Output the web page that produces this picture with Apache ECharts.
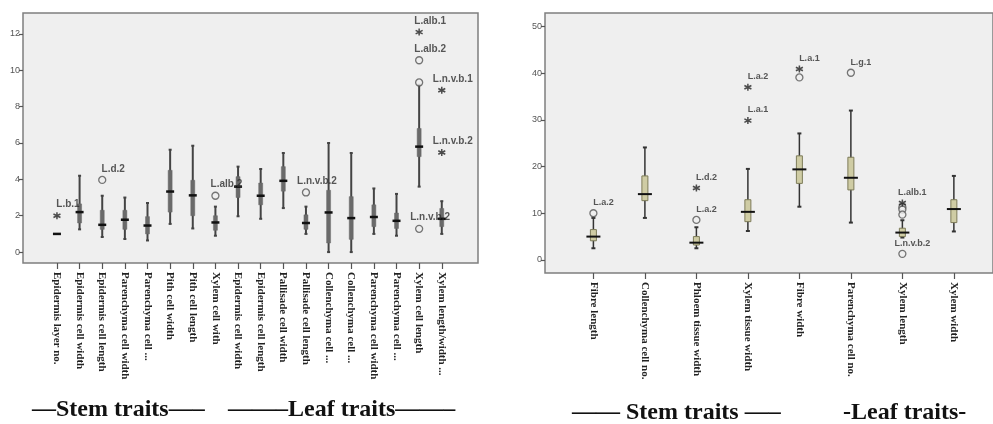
<!DOCTYPE html>
<html>
<head>
<meta charset="utf-8">
<script src="https://cdn.jsdelivr.net/npm/echarts@6/dist/echarts.min.js"></script>
<style>
  html, body { margin: 0; padding: 0; background: #fff; }
  #container { width: 993px; height: 424px; }
</style>
</head>
<body>
<div id="container"></div>
<script>
/* box plots of anatomical traits, two panels */
var leftCats = ['Epidermis layer no.', 'Epidermis cell width', 'Epidermis cell length', 'Parenchyma cell width',
    'Parenchyma cell ...', 'Pith cell width', 'Pith cell length', 'Xylem cell with', 'Epidermis cell width',
    'Epidermis cell length', 'Pallisade cell width', 'Pallisade cell length', 'Collenchyma cell ...',
    'Collenchyma cell ...', 'Parenchyma cell width', 'Parenchyma cell ...', 'Xylem cell length', 'Xylem length/width ...'];
// [min, Q1, median, Q3, max]
var leftBox = [
    [1, 1, 1, 1, 1],
    [1.25, 1.6, 2.2, 2.65, 4.2],
    [0.83, 1.25, 1.5, 2.3, 3.1],
    [0.72, 1.25, 1.78, 2.3, 3.0],
    [0.64, 1.0, 1.46, 1.95, 2.7],
    [1.55, 2.2, 3.33, 4.5, 5.63],
    [1.3, 2.0, 3.12, 3.95, 5.85],
    [0.9, 1.2, 1.63, 2.0, 2.5],
    [1.97, 3.0, 3.6, 4.15, 4.7],
    [1.83, 2.6, 3.1, 3.8, 4.57],
    [2.42, 3.35, 3.92, 4.7, 5.45],
    [1.0, 1.25, 1.6, 2.05, 2.5],
    [0, 0.5, 2.18, 3.4, 6.0],
    [0, 0.7, 1.87, 3.05, 5.45],
    [1.0, 1.4, 1.93, 2.6, 3.5],
    [0.9, 1.3, 1.72, 2.15, 3.2],
    [3.6, 5.25, 5.8, 6.8, 9.2],
    [1.0, 1.4, 1.83, 2.4, 2.8]
];
// [category index, value, kind, label]
var leftOutliers = [
    [0, 2.0, 'star', 'L.b.1'],
    [2, 3.97, 'circle', 'L.d.2'],
    [7, 3.1, 'circle', 'L.alb.2'],
    [11, 3.28, 'circle', 'L.n.v.b.2'],
    [16, 12.1, 'star', 'L.alb.1'],
    [16, 10.55, 'circle', 'L.alb.2'],
    [16, 9.33, 'circle', ''],
    [16, 1.28, 'circle', 'L.n.v.b.2'],
    [17, 8.9, 'star', 'L.n.v.b.1'],
    [17, 5.48, 'star', 'L.n.v.b.2']
];
var leftTicks = [0, 2, 4, 6, 8, 10, 12];

var rightCats = ['Fibre length', 'Collenchyma cell no.', 'Phloem tissue width', 'Xylem tissue width',
    'Fibre width', 'Parenchyma cell no.', 'Xylem length', 'Xylem width'];
var rightBox = [
    [2.5, 4.1, 5.0, 6.5, 9.0],
    [9.0, 12.7, 14.1, 18.0, 24.1],
    [2.5, 3.2, 3.7, 5.0, 7.0],
    [6.2, 8.2, 10.3, 12.9, 19.5],
    [11.4, 16.4, 19.4, 22.3, 27.1],
    [8.0, 15.0, 17.6, 22.0, 32.0],
    [4.8, 5.0, 5.86, 6.8, 8.5],
    [6.1, 8.0, 10.9, 12.9, 18.0]
];
var rightOutliers = [
    [0, 10.0, 'circle', 'L.a.2'],
    [2, 8.57, 'circle', 'L.a.2'],
    [2, 15.4, 'star', 'L.d.2'],
    [3, 37.0, 'star', 'L.a.2'],
    [3, 29.85, 'star', 'L.a.1'],
    [4, 40.9, 'star', 'L.a.1'],
    [4, 39.1, 'circle', ''],
    [5, 40.1, 'circle', 'L.g.1'],
    [6, 12.2, 'star', 'L.alb.1'],
    [6, 11.3, 'circle', ''],
    [6, 10.8, 'circle', ''],
    [6, 9.7, 'circle', ''],
    [6, 1.3, 'circle', 'L.n.v.b.2']
];
var rightTicks = [0, 10, 20, 30, 40, 50];

var STAR = 'path://M5,0L5,10M0.7,2.5L9.3,7.5M0.7,7.5L9.3,2.5';

function boxRenderer(st) {
    return function (params, api) {
        var x = api.value(0);
        var pMin = api.coord([x, api.value(1)]);
        var pQ1 = api.coord([x, api.value(2)]);
        var pMed = api.coord([x, api.value(3)]);
        var pQ3 = api.coord([x, api.value(4)]);
        var pMax = api.coord([x, api.value(5)]);
        var cx = pMed[0];
        var kids = [];
        if (pMin[1] - pMax[1] > 0.5) {
            kids.push({type: 'line', shape: {x1: cx, y1: pMin[1], x2: cx, y2: pMax[1]},
                style: {stroke: st.whisker, lineWidth: st.whiskerWidth}});
            kids.push({type: 'line', shape: {x1: cx - st.cap / 2, y1: pMin[1], x2: cx + st.cap / 2, y2: pMin[1]},
                style: {stroke: st.whisker, lineWidth: 2}});
            kids.push({type: 'line', shape: {x1: cx - st.cap / 2, y1: pMax[1], x2: cx + st.cap / 2, y2: pMax[1]},
                style: {stroke: st.whisker, lineWidth: 2}});
        }
        if (pQ1[1] - pQ3[1] > 0.5) {
            kids.push({type: 'rect', shape: {x: cx - st.boxW / 2, y: pQ3[1], width: st.boxW, height: pQ1[1] - pQ3[1]},
                style: {fill: st.boxFill, stroke: st.boxStroke, lineWidth: st.boxLine}});
        }
        kids.push({type: 'line', shape: {x1: cx - st.medW / 2, y1: pMed[1], x2: cx + st.medW / 2, y2: pMed[1]},
            style: {stroke: '#111', lineWidth: st.medLine}});
        return {type: 'group', children: kids};
    };
}

function outlierSeries(list, kind, axis, dx, fontSize) {
    return {
        type: 'scatter',
        xAxisIndex: axis,
        yAxisIndex: axis,
        symbol: kind === 'star' ? STAR : 'circle',
        symbolSize: 7,
        itemStyle: kind === 'star'
            ? {color: 'transparent', borderColor: '#222', borderWidth: 1.5}
            : {color: '#efefef', borderColor: '#555', borderWidth: 1.3},
        label: {
            show: true,
            position: 'top',
            distance: 2,
            offset: [dx, 0],
            formatter: '{b}',
            fontFamily: 'Liberation Sans',
            fontWeight: 'bold',
            fontSize: fontSize,
            color: '#2e2e2e'
        },
        emphasis: {disabled: true},
        z: 5,
        data: list.filter(function (o) { return o[2] === kind; }).map(function (o) {
            return {value: [o[0], o[1]], name: o[3]};
        })
    };
}

function catAxis(idx, cats, min, max) {
    return {
        type: 'value',
        gridIndex: idx,
        min: min,
        max: max,
        splitLine: {show: false},
        axisLine: {show: false, onZero: false},
        axisTick: {show: true, length: 6, lineStyle: {color: '#555', width: 1.2},
            customValues: cats.map(function (c, i) { return i; })},
        axisLabel: {
            rotate: -90,
            margin: 9,
            fontFamily: 'Liberation Serif',
            fontWeight: 'bold',
            fontSize: 11,
            color: '#222',
            customValues: cats.map(function (c, i) { return i; }),
            formatter: function (v) { return cats[Math.round(v)]; }
        }
    };
}

function valAxis(idx, ticks, min, max) {
    return {
        type: 'value',
        gridIndex: idx,
        min: min,
        max: max,
        splitLine: {show: false},
        axisLine: {show: false, onZero: false},
        axisTick: {show: true, length: 4, lineStyle: {color: '#555', width: 1.2}, customValues: ticks},
        axisLabel: {margin: 3, fontFamily: 'Liberation Sans', fontSize: 9, color: '#555', customValues: ticks}
    };
}

var leftStyle = {whisker: '#444', whiskerWidth: 2, cap: 3, boxW: 4, boxFill: '#6a6a6a',
    boxStroke: '#6a6a6a', boxLine: 0.5, medW: 8, medLine: 2.5};
var rightStyle = {whisker: '#333', whiskerWidth: 1.5, cap: 4, boxW: 6, boxFill: '#cfcca4',
    boxStroke: '#7d7b58', boxLine: 1, medW: 14, medLine: 2};

var dom = document.getElementById('container');
var myChart = echarts.init(dom);
var option = {
    backgroundColor: '#fff',
    animation: false,
    grid: [
        {left: 23, top: 13, width: 455, height: 250, show: true, backgroundColor: '#efefef',
            borderColor: '#7f7f7f', borderWidth: 1.5},
        {left: 545, top: 13, width: 448, height: 260, show: true, backgroundColor: '#efefef',
            borderColor: '#7f7f7f', borderWidth: 1.5}
    ],
    xAxis: [
        catAxis(0, leftCats, -1.5, 18.6),
        catAxis(1, rightCats, -0.94, 7.76)
    ],
    yAxis: [
        valAxis(0, leftTicks, -0.6, 13.15),
        valAxis(1, rightTicks, -2.8, 52.9)
    ],
    series: [
        {
            type: 'custom', xAxisIndex: 0, yAxisIndex: 0,
            renderItem: boxRenderer(leftStyle),
            encode: {x: 0, y: [1, 2, 3, 4, 5]},
            data: leftBox.map(function (b, i) { return [i].concat(b); })
        },
        outlierSeries(leftOutliers, 'circle', 0, 11, 10),
        outlierSeries(leftOutliers, 'star', 0, 11, 10),
        {
            type: 'custom', xAxisIndex: 1, yAxisIndex: 1,
            renderItem: boxRenderer(rightStyle),
            encode: {x: 0, y: [1, 2, 3, 4, 5]},
            data: rightBox.map(function (b, i) { return [i].concat(b); })
        },
        outlierSeries(rightOutliers, 'circle', 1, 10, 9),
        outlierSeries(rightOutliers, 'star', 1, 10, 9)
    ],
    graphic: [
        {type: 'text', x: 32, y: 410, style: {text: '\u2014Stem traits\u2014\u2013', fill: '#111',
            font: 'bold 24px "Liberation Serif"', verticalAlign: 'middle'}},
        {type: 'text', x: 228, y: 410, style: {text: '\u2014\u2014\u2013Leaf traits\u2014\u2014\u2013', fill: '#111',
            font: 'bold 24px "Liberation Serif"', verticalAlign: 'middle'}},
        {type: 'text', x: 572, y: 413, style: {text: '\u2014\u2014 Stem traits \u2014\u2013', fill: '#111',
            font: 'bold 24px "Liberation Serif"', verticalAlign: 'middle'}},
        {type: 'text', x: 843, y: 413, style: {text: '-Leaf traits-', fill: '#111',
            font: 'bold 24px "Liberation Serif"', verticalAlign: 'middle'}}
    ]
};
if (option && typeof option === "object") {
    myChart.setOption(option, true);
}
</script>
</body>
</html>
